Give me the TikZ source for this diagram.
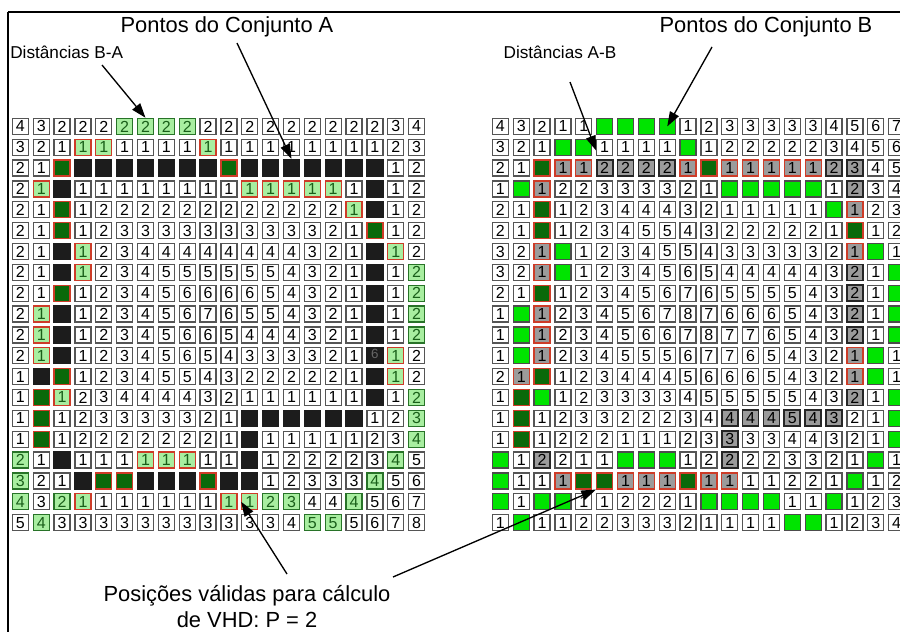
\documentclass[tikz,border=0pt]{standalone}
\usepackage{fontspec}
\setmainfont{Liberation Sans}
\usetikzlibrary{arrows.meta,calc}
\definecolor{palegreen}{RGB}{168,238,160}
\definecolor{bordergreen}{RGB}{40,115,40}
\definecolor{textgreen}{RGB}{25,95,25}
\definecolor{validred}{RGB}{205,60,40}
\definecolor{darkgreen}{RGB}{10,105,10}
\definecolor{brightgreen}{RGB}{0,228,0}
\definecolor{midgray}{RGB}{155,155,155}
\definecolor{nearblack}{RGB}{28,28,28}
\definecolor{cellgray}{RGB}{85,85,85}

\tikzset{
  cell/.style={rectangle, minimum size=12pt, inner sep=0pt, line width=1pt, font=\fontsize{12}{12}\selectfont},
  wcell/.style={cell, draw=cellgray, fill=white},
  lgcell/.style={cell, draw=bordergreen, fill=palegreen, text=textgreen},
  rgcell/.style={cell, draw=validred, fill=palegreen, text=textgreen},
  blkcell/.style={cell, fill=nearblack, minimum size=13pt},
  dkcell/.style={cell, draw=validred, fill=darkgreen},
  brcell/.style={cell, draw=black!70, fill=brightgreen},
  grycell/.style={cell, draw=validred, fill=midgray},
  gdkcell/.style={cell, draw=black!85, fill=midgray, line width=1.3pt},
  biglabel/.style={font=\fontsize{16.4}{19.5}\selectfont, inner sep=0pt},
  smalllabel/.style={font=\fontsize{12.9}{15}\selectfont, inner sep=0pt},
  pointer/.style={-{Triangle[length=11pt,width=7.5pt]}, line width=1pt},
}

% split a cell token (g2, r1, k, d, G, a1, b3 or a plain digit)
\def\splitcell#1#2\relax{\def\ctype{#1}\def\cval{#2}}
\newcommand\cellnode[2]{\node[#1] (\cname) at (\cx,\cy) {#2};}
% #1 grid prefix, #2 left edge, #3 row, #4 column, #5 token
\newcommand\gridcell[5]{%
  \pgfmathsetmacro\cx{#2+(#4-0.5)*20.85}%
  \pgfmathsetmacro\cy{116+(#3-0.5)*20.85}%
  \edef\cname{#1-#3-#4}%
  \expandafter\splitcell#5\relax
  \if g\ctype\cellnode{lgcell}{\cval}%
  \else\if r\ctype\cellnode{rgcell}{\cval}%
  \else\if k\ctype\cellnode{blkcell}{}%
  \else\if d\ctype\cellnode{dkcell}{}%
  \else\if G\ctype\cellnode{brcell}{}%
  \else\if a\ctype\cellnode{grycell}{\cval}%
  \else\if b\ctype\cellnode{gdkcell}{\cval}%
  \else\cellnode{wcell}{\ctype}%
  \fi\fi\fi\fi\fi\fi\fi}

\begin{document}
\begin{tikzpicture}[x=0.75pt, y=-0.75pt]
    \useasboundingbox (0,0) rectangle (900,632);

    % Frame lines (top and left)
    \draw[line width=1.6pt] (8,12) -- (900,12);
    \draw[line width=1.2pt] (8,12) -- (8,632);

    % Left grid: distances B-A
    \foreach \rowdata [count=\ri] in {
        {4,3,2,2,2,g2,g2,g2,g2,2,2,2,2,2,2,2,2,2,3,4},
        {3,2,1,r1,r1,1,1,1,1,r1,1,1,1,1,1,1,1,1,2,3},
        {2,1,d,k,k,k,k,k,k,k,d,k,k,k,k,k,k,k,1,2},
        {2,r1,k,1,1,1,1,1,1,1,1,r1,r1,r1,r1,r1,1,k,1,2},
        {2,1,d,1,2,2,2,2,2,2,2,2,2,2,2,2,r1,k,1,2},
        {2,1,d,1,2,3,3,3,3,3,3,3,3,3,3,2,1,d,1,2},
        {2,1,k,r1,2,3,4,4,4,4,4,4,4,4,3,2,1,k,r1,2},
        {2,1,k,r1,2,3,4,5,5,5,5,5,5,4,3,2,1,k,1,g2},
        {2,1,d,1,2,3,4,5,6,6,6,6,5,4,3,2,1,k,1,g2},
        {2,r1,k,1,2,3,4,5,6,7,6,5,5,4,3,2,1,k,1,g2},
        {2,r1,k,1,2,3,4,5,6,6,5,4,4,4,3,2,1,k,1,g2},
        {2,r1,k,1,2,3,4,5,6,5,4,3,3,3,3,2,1,k,r1,2},
        {1,k,d,1,2,3,4,5,5,4,3,2,2,2,2,2,1,k,r1,2},
        {1,d,r1,2,3,4,4,4,4,3,2,1,1,1,1,1,1,k,1,g2},
        {1,d,1,2,3,3,3,3,3,2,1,k,k,k,k,k,k,1,2,g3},
        {1,d,1,2,2,2,2,2,2,2,1,k,1,1,1,1,1,2,3,g4},
        {g2,1,k,1,1,1,r1,r1,r1,1,1,k,1,2,2,2,2,3,g4,5},
        {g3,2,1,k,d,d,k,k,k,d,k,k,1,2,3,3,3,g4,5,6},
        {g4,3,g2,r1,1,1,1,1,1,1,r1,r1,g2,g3,4,4,g4,5,6,7},
        {5,g4,3,3,3,3,3,3,3,3,3,3,3,4,g5,g5,5,6,7,8}%
    }{\foreach \v [count=\ci] in \rowdata {\gridcell{L}{10}{\ri}{\ci}{\v}}}
    \node[font=\fontsize{10}{10}\selectfont, text=black!60, inner sep=0pt] (stray) at ($(L-12-18.center)+(0,-2)$) {6};

    % Right grid: distances A-B
    \foreach \rowdata [count=\ri] in {
        {4,3,2,1,1,G,G,G,G,1,2,3,3,3,3,3,4,5,6,7},
        {3,2,1,G,G,1,1,1,1,G,1,2,2,2,2,2,3,4,5,6},
        {2,1,d,a1,a1,b2,b2,b2,b2,a1,d,a1,a1,a1,a1,a1,b2,b3,4,5},
        {1,G,a1,2,2,3,3,3,3,2,1,G,G,G,G,G,1,b2,3,4},
        {2,1,d,1,2,3,4,4,4,3,2,1,1,1,1,1,G,a1,2,3},
        {2,1,d,1,2,3,4,5,5,4,3,2,2,2,2,2,1,d,1,2},
        {3,2,a1,G,1,2,3,4,5,5,4,3,3,3,3,3,2,a1,G,1},
        {3,2,a1,G,1,2,3,4,5,6,5,4,4,4,4,4,3,b2,1,G},
        {2,1,d,1,2,3,4,5,6,7,6,5,5,5,5,4,3,b2,1,G},
        {1,G,a1,2,3,4,5,6,7,8,7,6,6,6,5,4,3,b2,1,G},
        {1,G,a1,2,3,4,5,6,6,7,8,7,7,6,5,4,3,b2,1,G},
        {1,G,a1,2,3,4,5,5,5,6,7,7,6,5,4,3,2,a1,G,1},
        {2,a1,d,1,2,3,4,4,4,5,6,6,6,5,4,3,2,a1,G,1},
        {1,d,G,1,2,3,3,3,3,4,5,5,5,5,5,4,3,b2,1,G},
        {1,d,1,2,3,3,2,2,2,3,4,b4,b4,b4,b5,b4,b3,2,1,G},
        {1,d,1,2,2,2,1,1,1,2,3,b3,3,3,4,4,3,2,1,G},
        {G,1,b2,2,1,1,G,G,G,1,2,b2,2,2,3,3,2,1,G,1},
        {G,1,1,a1,d,d,a1,a1,a1,d,a1,a1,1,1,2,2,1,G,1,2},
        {G,1,G,G,1,1,2,2,2,1,G,G,G,G,1,1,G,1,2,3},
        {1,G,1,1,2,2,3,3,3,2,1,1,1,1,G,G,1,2,3,4}%
    }{\foreach \v [count=\ci] in \rowdata {\gridcell{R}{490}{\ri}{\ci}{\v}}}

    % Labels
    \node[biglabel] (pontosA) at (227,27) {Pontos do Conjunto A};
    \node[biglabel] (pontosB) at (766,27) {Pontos do Conjunto B};
    \node[smalllabel, anchor=west] (distBA) at (10,52) {Distâncias B-A};
    \node[smalllabel] (distAB) at (560,52) {Distâncias A-B};
    \node[biglabel, align=center] (validas) at (247,607) {Posições válidas para cálculo\\de VHD: P = 2};

    % Arrow tails
    \coordinate (tailBA) at (102,65);
    \coordinate (tailA) at (237,43);
    \coordinate (tailAB) at (570,82);
    \coordinate (tailB) at (712,47);
    \coordinate (tailVL) at (287,574);
    \coordinate (tailVR) at (393,577);

    % Arrows
    \draw[pointer] (tailBA) -- (L-1-7.north);
    \draw[pointer] (tailA) -- (L-3-14.north);
    \draw[pointer] (tailAB) -- (R-2-6.200);
    \draw[pointer] (tailB) -- (R-1-9.center);
    \draw[pointer] (tailVL) -- (L-19-12.west);
    \draw[pointer] (tailVR) -- (R-18-6.south west);
\end{tikzpicture}
\end{document}
